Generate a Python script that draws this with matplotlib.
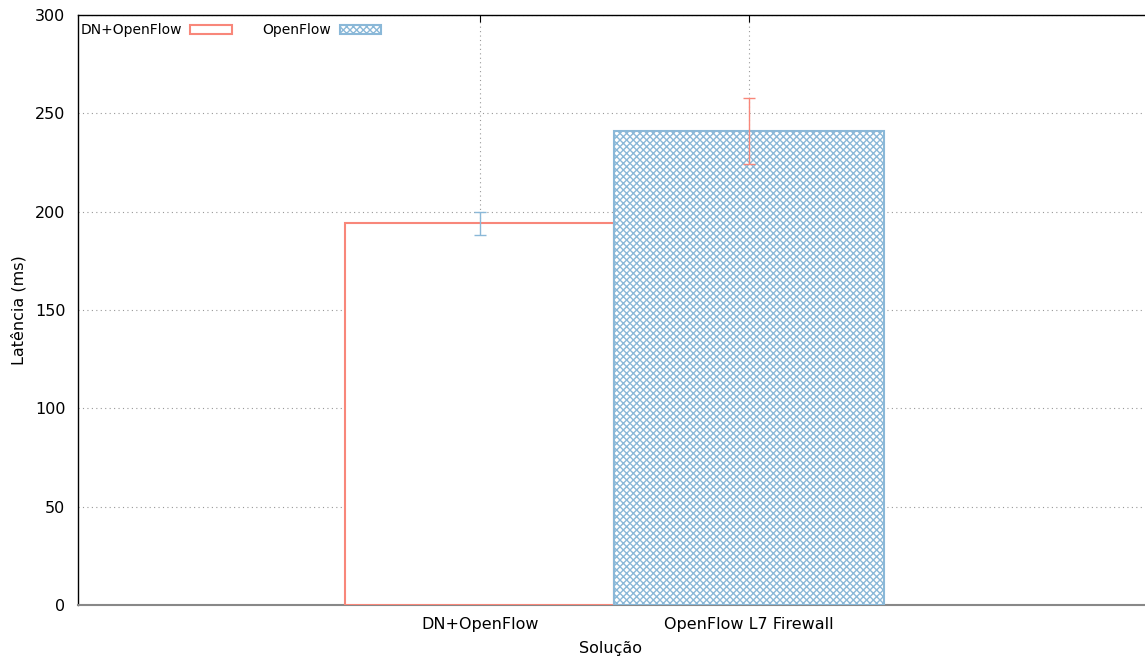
import matplotlib.pyplot as plt
import matplotlib as mpl

# dados do gráfico
categorias = ["DN+OpenFlow", "OpenFlow L7 Firewall"]
legendas = ["DN+OpenFlow", "OpenFlow"]
latencia = [194, 241]
erro = [6, 17]

vermelho = "#f8877a"
azul = "#8ab8d8"

mpl.rcParams['hatch.linewidth'] = 1.0
fig = plt.figure(figsize=(11.45, 6.57), dpi=100)
ax = fig.add_axes([78 / 1145, 1 - 605 / 657, (1144 - 78) / 1145, (605 - 15) / 657])

x = list(range(len(categorias)))
ax.bar(x[0], latencia[0], width=1.0, facecolor="white", edgecolor=vermelho,
       linewidth=1.5, label=legendas[0], zorder=3)
ax.bar(x[1], latencia[1], width=1.0, facecolor="white", edgecolor=azul,
       linewidth=1.5, hatch="xxxxx", label=legendas[1], zorder=3)
ax.errorbar(x[0], latencia[0], yerr=erro[0], color=azul, capsize=4, lw=1, zorder=4)
ax.errorbar(x[1], latencia[1], yerr=erro[1], color=vermelho, capsize=4, lw=1, zorder=4)

ax.set_xlim(-1.494, 2.468)
ax.set_ylim(0, 300)
ax.set_yticks(range(0, 301, 50))
ax.set_xticks(x)
ax.set_xticklabels(categorias, fontsize=11.5)
ax.tick_params(axis='y', labelsize=11.5, direction='in', right=False, length=0, pad=9)
ax.tick_params(axis='x', direction='in', top=True, length=5, pad=9)
ax.grid(True, color="#999999", linestyle=(0, (1, 3)), linewidth=0.8, zorder=0)
for s in ["top", "left"]:
    ax.spines[s].set_linewidth(1)
ax.spines["right"].set_visible(False)
ax.spines["bottom"].set_color("#888888")
ax.spines["bottom"].set_linewidth(1.5)

ax.set_xlabel("Solução", fontsize=11.5, labelpad=6)
ax.set_ylabel("Latência (ms)", fontsize=11.5, labelpad=6)

ax.legend(loc="upper left", bbox_to_anchor=(-0.0055, 1.0), ncol=2, frameon=False,
          markerfirst=False, fontsize=10, handlelength=3, handleheight=0.6,
          columnspacing=2.2, borderaxespad=0.0, borderpad=0.6, handletextpad=0.6)

fig.savefig("out.png", dpi=100)
